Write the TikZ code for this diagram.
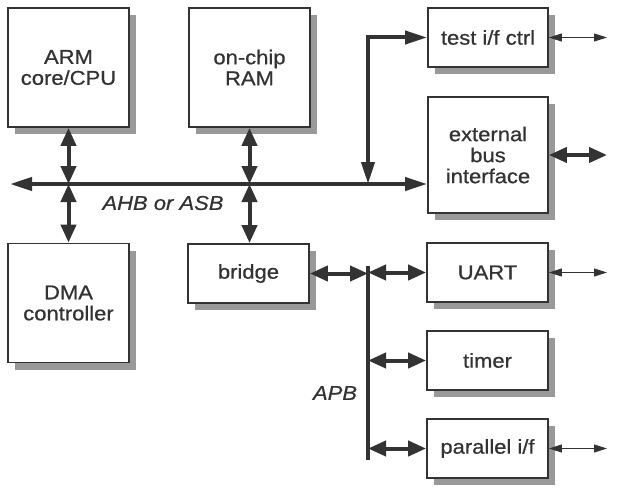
\documentclass[tikz,border=0pt]{standalone}
\usepackage{fontspec}
\newfontfamily\blkfont{Liberation Sans}[FakeStretch=1.1, FakeBold=0.7]
\usetikzlibrary{arrows.meta,shadows}

\tikzset{
  blk/.style={draw=black!80, line width=1.8pt, fill=white, text=black!80, align=center,
    inner sep=0pt, minimum width=121pt, font=\blkfont\fontsize{20}{21}\selectfont,
    drop shadow={shadow xshift=7pt, shadow yshift=-7pt, fill=black!40, opacity=1}},
  tallblk/.style={blk, minimum height=119pt},
  lowblk/.style={blk, minimum height=59pt},
  bus/.style={draw=black!80, line width=4pt},
  bihead/.style={bus, {Triangle[length=18pt,width=15pt]}-{Triangle[length=18pt,width=15pt]}},
  longhead/.style={bus, {Triangle[length=22pt,width=13pt]}-{Triangle[length=22pt,width=13pt]}},
  pinhead/.style={draw=black!80, line width=0.9pt, {Triangle[length=13pt,width=8pt]}-{Triangle[length=13pt,width=8pt]}},
  buslbl/.style={text=black!80, font=\blkfont\itshape\fontsize{20}{21}\selectfont}
}

\begin{document}
\begin{tikzpicture}[x=1pt, y=-1pt]
\useasboundingbox (0,0) rectangle (628,495);

\draw (68.5,67.5) node[tallblk] (arm) {ARM\\core/CPU} ;
\draw (249.5,67.5) node[tallblk] (ram) {on-chip\\RAM} ;
\draw (68.5,303) node[tallblk] (dma) {DMA\\controller} ;
\draw (248.5,273.5) node[lowblk] (bridge) {bridge} ;

\draw (488,37.5) node[lowblk, minimum width=120pt] (test) {test i/f ctrl} ;
\draw (488,155) node[blk, minimum width=120pt, minimum height=116pt] (ext) {external\\bus\\interface} ;
\draw (487.5,272.5) node[lowblk] (uart) {UART} ;
\draw (487.5,360.5) node[lowblk] (timer) {timer} ;
\draw (487.5,448.5) node[lowblk] (par) {parallel i/f} ;

% AHB / ASB
\coordinate (busL) at (10,184) ;
\coordinate (jtest) at (368,184) ;
\draw[longhead] (busL) -- (busL -| ext.west) ;
\draw[bihead] (arm.south) -- (arm.south |- busL) ;
\draw[bihead] (arm.south |- busL) -- (dma.north) ;
\draw[bihead] (ram.south) -- (ram.south |- busL) ;
\draw[bihead] (ram.south |- busL) -- (bridge.north -| ram.south) ;
\draw[longhead] (jtest) |- (test.west) ;
\draw (163,203) node[buslbl] (ahb) {AHB or ASB} ;

% APB
\coordinate (apbT) at (368,266) ;
\coordinate (apbB) at (368,460) ;
\draw[bus] (apbT) -- (apbB) ;
\draw[bihead] (bridge.east) -- (bridge.east -| apbT) ;
\draw[bihead] (uart.west -| apbT) -- (uart.west) ;
\draw[bihead] (timer.west -| apbT) -- (timer.west) ;
\draw[bihead] (par.west -| apbT) -- (par.west) ;
\draw (335,393) node[buslbl] (apb) {APB} ;

% off-chip
\coordinate (pinx) at (607,0) ;
\draw[pinhead] (test.east) -- (test.east -| pinx) ;
\draw[bihead] (ext.east) -- (ext.east -| pinx) ;
\draw[pinhead] (uart.east) -- (uart.east -| pinx) ;
\draw[pinhead] (par.east) -- (par.east -| pinx) ;

\end{tikzpicture}
\end{document}
